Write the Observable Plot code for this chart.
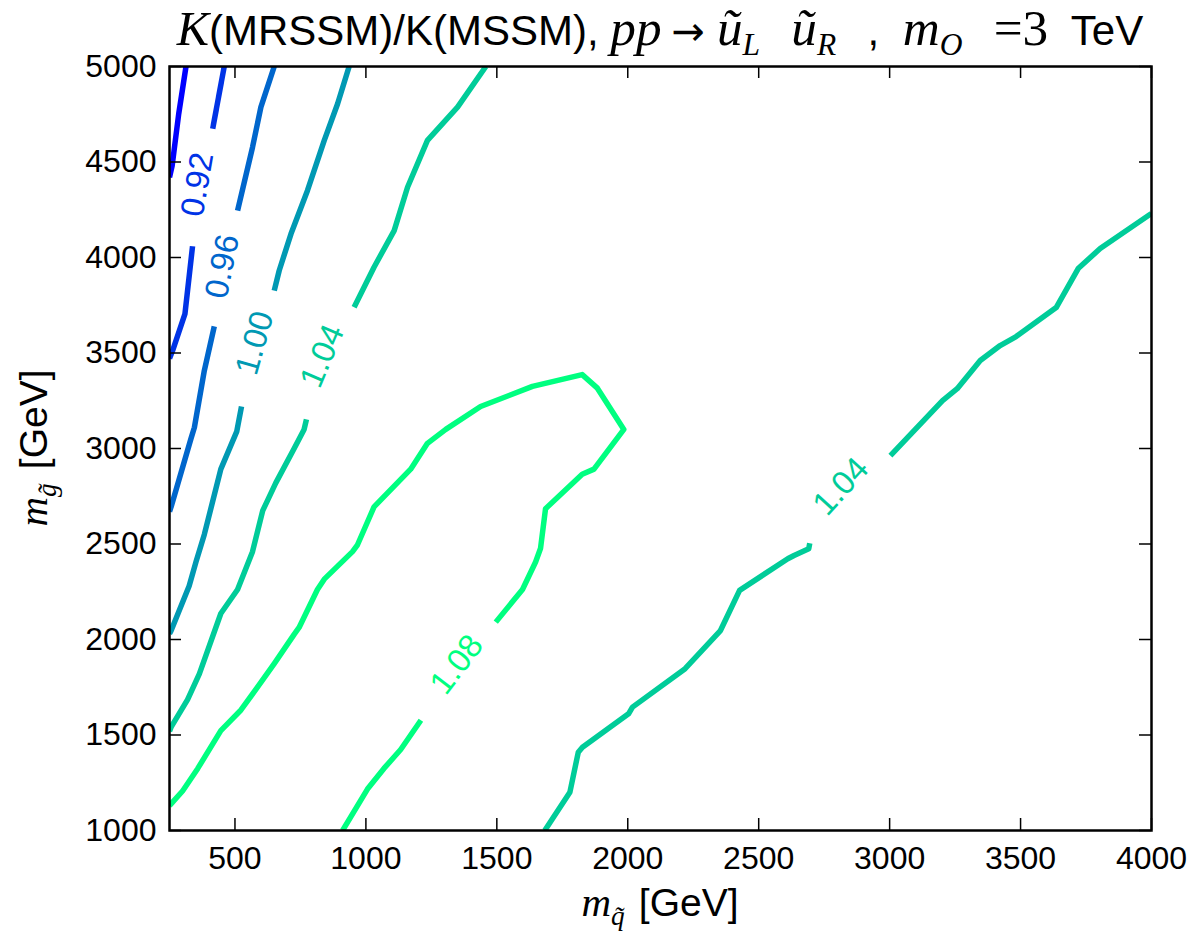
<!DOCTYPE html>
<html><head><meta charset="utf-8">
<script src="https://cdn.jsdelivr.net/npm/d3@7"></script>
<script src="https://cdn.jsdelivr.net/npm/@observablehq/plot@0.6"></script>
<style>
body{margin:0;background:#fff;}
#wrap{position:relative;width:1192px;height:935px;font-family:"Liberation Sans",Arial,sans-serif;overflow:hidden;}
#wrap svg{position:absolute;left:0;top:0;}
.lbl{position:absolute;white-space:nowrap;color:#000;text-align:center;}
.m{font-family:"Liberation Serif","DejaVu Serif",serif;font-style:italic;font-size:1.05em;}
.r{font-family:"Liberation Serif","DejaVu Serif",serif;}
.ar{font-family:"DejaVu Sans",sans-serif;font-size:0.95em;margin:0 0.3em 0 0.25em;}
.sb{font-family:"Liberation Serif","DejaVu Serif",serif;font-style:italic;font-size:0.7em;position:relative;top:0.32em;margin-right:0.12em;}
#title .m, #title .r{font-size:1.22em;}
#title .sb{font-size:0.75em;margin-right:0.25em;}
#title .mp{word-spacing:0.28em;}
</style></head><body><div id="wrap">
<div class="lbl" id="title" style="left:169px;top:4px;width:982px;height:48px;line-height:48px;font-size:42px;"><span class="m" style="font-size:1.15em">K</span>(MRSSM)/K(MSSM), <span class="mp"><span class="m">pp</span><span class="ar">&#8594;</span><span class="m">&#361;</span><span class="sb">L</span> <span class="m">&#361;</span><span class="sb">R</span> , <span class="m">m</span><span class="sb">O</span> <span class="r">=3</span> TeV</span></div>
<div class="lbl" id="xlab" style="left:169px;top:880px;width:982px;height:46px;line-height:46px;font-size:39px;"><span class="m">m</span><span class="sb">q&#771;</span> [GeV]</div>
<div class="lbl" id="ylab" style="left:-348px;top:425px;width:764px;height:46px;line-height:46px;font-size:39px;transform:rotate(-90deg);"><span class="m">m</span><span class="sb">g&#771;</span> [GeV]</div>
</div>
<script>
// ---- data ----
const xTicks = [500, 1000, 1500, 2000, 2500, 3000, 3500, 4000];
const yTicks = [1000, 1500, 2000, 2500, 3000, 3500, 4000, 4500, 5000];
const levels = [0.88, 0.92, 0.96, 1.00, 1.04, 1.08];

// contour lines: list of segments (broken where the inline labels sit), points [m_q, m_g]
const c088 = [[[313,5000],[285,4750],[260,4480],[250,4420]]];
const c092 = [
  [[459,5000],[415,4674]],
  [[338,4059],[309,3705],[262,3513],[250,3471]]
];
const c096 = [
  [[650,5000],[599,4787],[567,4577],[510,4246]],
  [[421,3639],[383,3408],[345,3110],[332,3052],[256,2694],[250,2670]]
];
const c100 = [
  [[936,5000],[892,4805],[841,4613],[777,4351],[714,4124],[669,3932],[650,3827]],
  [[525,3220],[507,3090],[446,2892],[383,2550],[351,2406],[325,2280],[256,2046],[250,2030]]
];
const c104a = [
  [[1458,5000],[1350,4787],[1235,4613],[1159,4368],[1108,4141],[1031,3949],[955,3740]],
  [[773,3153],[764,3100],[726,3000],[656,2820],[625,2730],[606,2675],[567,2460],[510,2262],[446,2136],[364,1820],[319,1685],[256,1541],[250,1520]]
];
const c108 = [
  [[250,1130],[300,1207],[358,1325],[446,1523],[523,1631],[599,1775],[650,1874],[726,2027],[745,2063],[815,2262],[841,2316],[949,2460],[968,2496],[1031,2694],[1171,2892],[1235,3027],[1305,3100],[1438,3220],[1636,3325],[1826,3387],[1884,3316],[1985,3100],[1871,2892],[1826,2865],[1686,2685],[1667,2478],[1648,2406],[1598,2262],[1496,2091]],
  [[1210,1577],[1133,1424],[1069,1325],[1006,1217],[911,1000]]
];
const c104b = [
  [[1683,1000],[1779,1200],[1811,1410],[1827,1436],[2003,1611],[2018,1646],[2219,1847],[2354,2047],[2427,2257],[2611,2423],[2635,2440],[2691,2475],[2695,2504]],
  [[3003,2963],[3202,3251],[3258,3313],[3346,3461],[3422,3539],[3483,3586],[3636,3738],[3720,3942],[3804,4047],[3994,4225],[4000,4230]]
];
const contours = [[0.88, c088], [0.92, c092], [0.96, c096], [1.00, c100], [1.04, c104a], [1.08, c108], [1.04, c104b]];

// inline contour labels: level, position, and the contour whose gap they fill
const labelLevels = [0.92, 0.96, 1.00, 1.04, 1.08, 1.04];
const labelX = [357, 452, 576, 834, 1347, 2814];
const labelY = [4382, 3953, 3552, 3484, 1869, 2801];
const labelPaths = [c092, c096, c100, c104a, c108, c104b];

// ---- layout ----
const W = 1192, H = 935, mt = 66, mb = 105, ml = 169, mr = 41;
const pw = W - ml - mr, ph = H - mt - mb;
const xDom = [250, 4000], yDom = [1000, 5000];
const kx = pw / (xDom[1] - xDom[0]), ky = ph / (yDom[1] - yDom[0]);

const rows = [];
contours.forEach(([lv, segs], i) => segs.forEach((s, j) => s.forEach(([x, y]) => rows.push({x, y, level: lv, seg: i + "-" + j}))));

const labelRows = labelLevels.map((lv, i) => {
  const p = labelPaths[i];
  const a = p[0][p[0].length - 1], b = p[1][0];
  let ang = Math.atan2(-(b[1] - a[1]) * ky, (b[0] - a[0]) * kx) * 180 / Math.PI;
  if (ang > 90) ang -= 180;
  if (ang < -90) ang += 180;
  return {x: labelX[i], y: labelY[i], level: lv, text: lv.toFixed(2), angle: ang};
});

const tickLen = 12;
const font = "'Liberation Sans', Arial, sans-serif";
const chart = Plot.plot({
  width: W, height: H,
  marginTop: mt, marginBottom: mb, marginLeft: ml, marginRight: mr,
  x: {domain: xDom, label: null},
  y: {domain: yDom, label: null},
  color: {type: "linear", domain: [levels[0], levels[levels.length - 1]], range: ["#0000ff", "#00ff80"], interpolate: "rgb"},
  style: {fontFamily: font, background: "white", color: "black"},
  marks: [
    Plot.line(rows, {x: "x", y: "y", z: "seg", stroke: "level", strokeWidth: 5.5, strokeLinejoin: "round", strokeLinecap: "butt", clip: true}),
    Plot.text(labelRows, {x: "x", y: "y", text: "text", fill: "level", rotate: "angle", fontSize: 33, fontFamily: font}),
    Plot.tickX(xTicks, {x: d => d, insetTop: ph - tickLen, stroke: "black", strokeWidth: 1.5}),
    Plot.tickX(xTicks, {x: d => d, insetBottom: ph - tickLen, stroke: "black", strokeWidth: 1.5}),
    Plot.tickY(yTicks, {y: d => d, insetRight: pw - tickLen, stroke: "black", strokeWidth: 1.5}),
    Plot.tickY(yTicks, {y: d => d, insetLeft: pw - tickLen, stroke: "black", strokeWidth: 1.5}),
    Plot.frame({stroke: "black", strokeWidth: 2.5}),
    Plot.axisX(xTicks, {tickSize: 0, tickPadding: 16, fontSize: 32, label: null, tickFormat: d => String(d)}),
    Plot.axisY(yTicks, {tickSize: 0, tickPadding: 13, fontSize: 32, label: null, tickFormat: d => String(d)})
  ]
});
document.getElementById("wrap").prepend(chart);
</script>
</body></html>
